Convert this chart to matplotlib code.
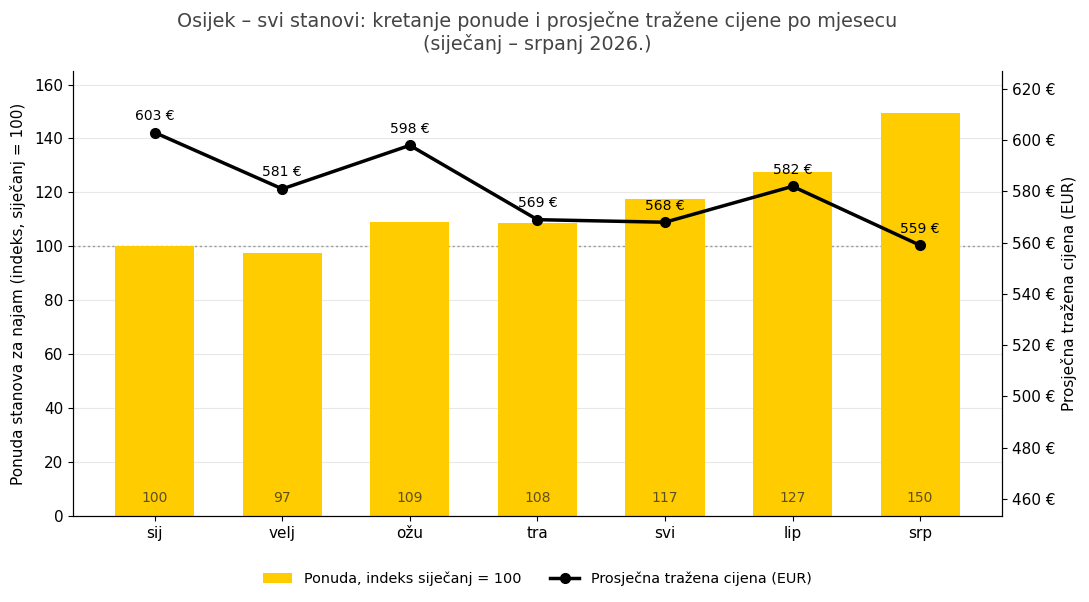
import matplotlib
matplotlib.use("Agg")
import matplotlib.pyplot as plt
from matplotlib.ticker import FuncFormatter

months = ["sij", "velj", "ožu", "tra", "svi", "lip", "srp"]
supply_index = [100.0, 97.4, 108.9, 108.5, 117.4, 127.4, 149.6]
avg_price = [603, 581, 598, 569, 568, 582, 559]

fig, ax = plt.subplots(figsize=(10.89, 6.02), dpi=100)
fig.subplots_adjust(left=0.067, right=0.92, top=0.882, bottom=0.143)

x = list(range(len(months)))
bars = ax.bar(x, supply_index, width=0.62, color="#FFCC00", zorder=2,
              label="Ponuda, indeks siječanj = 100")
for xi, v in zip(x, supply_index):
    ax.text(xi, 4, f"{round(v):d}", ha="center", va="bottom", fontsize=10,
            color="#5c5020", zorder=3)
ax.set_ylim(0, 165)
ax.set_xticks(x)
ax.set_xticklabels(months, fontsize=11)
ax.tick_params(axis="y", labelsize=11)
ax.set_ylabel("Ponuda stanova za najam (indeks, siječanj = 100)", fontsize=11, labelpad=6)
ax.grid(axis="y", color="#e8e8e8", linewidth=0.8, zorder=0)
ax.set_axisbelow(True)
ax.axhline(100, color="#999999", linestyle=(0, (1.5, 2)), linewidth=1, zorder=1)
ax.spines["top"].set_visible(False)

ax2 = ax.twinx()
line, = ax2.plot(x, avg_price, color="black", linewidth=2.5, marker="o",
                 markersize=7, zorder=4, label="Prosječna tražena cijena (EUR)")
for xi, v in zip(x, avg_price):
    ax2.annotate(f"{v} €", (xi, v), xytext=(0, 7), textcoords="offset points",
                 ha="center", va="bottom", fontsize=10)
ax2.set_ylim(453.4, 627)
ax2.set_yticks([460, 480, 500, 520, 540, 560, 580, 600, 620])
ax2.yaxis.set_major_formatter(FuncFormatter(lambda v, p: f"{v:.0f} €"))
ax2.tick_params(axis="y", labelsize=11)
ax2.set_ylabel("Prosječna tražena cijena (EUR)", fontsize=11)
ax2.spines["top"].set_visible(False)

ax.set_title("Osijek – svi stanovi: kretanje ponude i prosječne tražene cijene po mjesecu\n(siječanj – srpanj 2026.)",
             fontsize=13.8, color="#444444", pad=15)

ax.legend([bars, line], [bars.get_label(), line.get_label()], loc="lower center",
          ncol=2, frameon=False, fontsize=10.4,
          bbox_to_anchor=(0.5, -0.186))

fig.savefig("out.png", dpi=100)
